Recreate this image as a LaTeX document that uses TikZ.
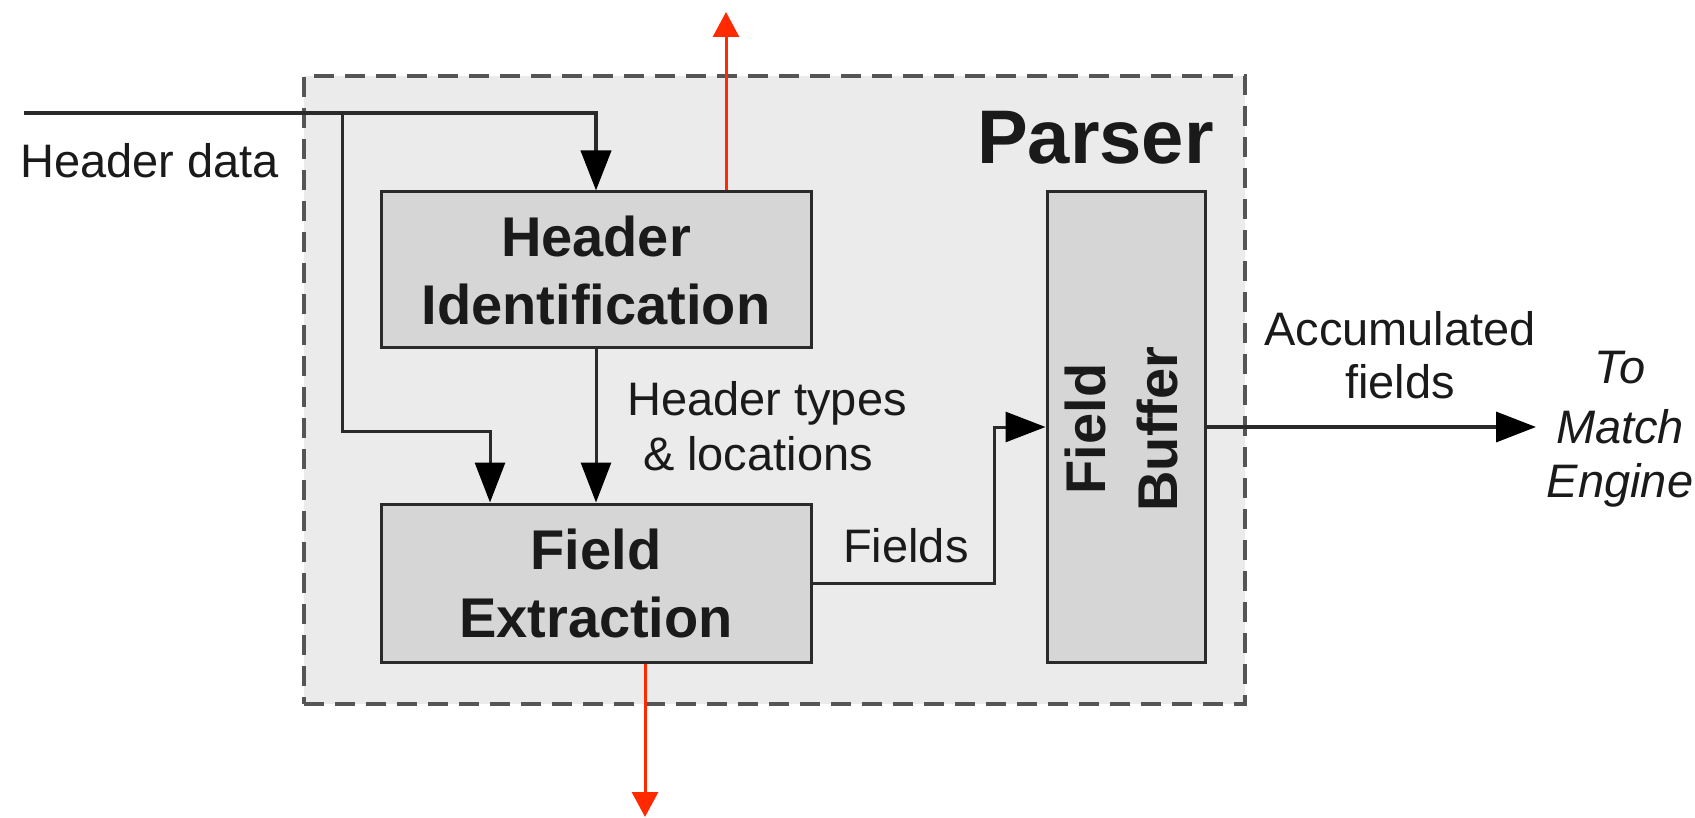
\documentclass[tikz,border=0pt]{standalone}
\usepackage{fontspec}
\setmainfont{Liberation Sans}
\usetikzlibrary{arrows.meta}
\definecolor{outerfill}{HTML}{EBEBEB}
\definecolor{boxfill}{HTML}{D6D6D6}
\definecolor{dashcol}{HTML}{555555}
\definecolor{linecol}{HTML}{2A2A2A}
\definecolor{redarr}{HTML}{FF2A00}
\definecolor{txt}{HTML}{1A1A1A}
\begin{document}
\begin{tikzpicture}[x=1pt,y=-1pt,
  container/.style={draw=dashcol, dash pattern=on 20pt off 11pt, line width=4pt, fill=outerfill, inner sep=0pt},
  blk/.style={draw=linecol, line width=3pt, fill=boxfill, inner sep=0pt, text=txt,
              align=center, font=\fontsize{56}{68}\selectfont\bfseries},
  arr/.style={draw=linecol, line width=3pt, -{Triangle[length=40pt,width=30pt,color=black]}},
  redar/.style={draw=redarr, line width=3pt, -{Triangle[length=25pt,width=26pt]}, color=redarr},
  lbl/.style={inner sep=0pt, text=txt, font=\fontsize{47}{55}\selectfont},
  ilbl/.style={inner sep=0pt, text=txt, font=\fontsize{47}{57}\selectfont\itshape},
]
\useasboundingbox (0,0) rectangle (1695,818);
% container
\node[container, minimum width=941, minimum height=628, anchor=north west] (parser) at (302,74) {};
\node[anchor=base east, inner sep=0pt, text=txt, font=\fontsize{76}{90}\selectfont\bfseries] (ptitle) at (1214,164) {Parser};
% blocks
\node[blk, minimum width=430, minimum height=156] (hi) at (596,270) {Header\\Identification};
\node[blk, minimum width=430, minimum height=158] (fe) at (596,583) {Field\\Extraction};
\node[blk, minimum width=158, minimum height=470] (fb) at (1126,427) {};
\node[rotate=90, inner sep=0pt, text=txt, align=center, font=\fontsize{56}{72}\selectfont\bfseries] (fbl) at (1121,429) {Field\\Buffer};
% coordinates
\coordinate (hdin) at (24,113);
\coordinate (br) at (342,113);
\coordinate (brk) at (490,431);
\coordinate (fcorner) at (994,427);
\coordinate (out) at (1536,427);
\coordinate (redtop) at (726,12);
\coordinate (redbot) at (645,817);
% connectors
\draw[arr, line width=4pt] (hdin) -| (hi.north);
\draw[arr] (br) |- (brk) -- (brk |- fe.north);
\draw[arr] (hi.south) -- (fe.north);
\draw[arr] (fe.east) -| (fcorner) -- (fcorner -| fb.west);
\draw[arr, line width=3.5pt] (fb.east |- out) -- (out);
\draw[redar] (hi.north -| redtop) -- (redtop);
\draw[redar] (fe.south -| redbot) -- (redbot);
% labels
\node[lbl, anchor=base west] (hdl) at (20,178) {Header data};
\node[lbl, anchor=base] (htl1) at (767,415) {Header types};
\node[lbl, anchor=base] (htl2) at (758,470) {\& locations};
\node[lbl, anchor=base west] (fdl) at (843,562) {Fields};
\node[lbl, anchor=base] (acl1) at (1400,345) {Accumulated};
\node[lbl, anchor=base] (acl2) at (1400,398) {fields};
\node[ilbl, anchor=base] (tm1) at (1620,383) {To};
\node[ilbl, anchor=base] (tm2) at (1620,443) {Match};
\node[ilbl, anchor=base] (tm3) at (1620,497) {Engine};
\end{tikzpicture}
\end{document}
